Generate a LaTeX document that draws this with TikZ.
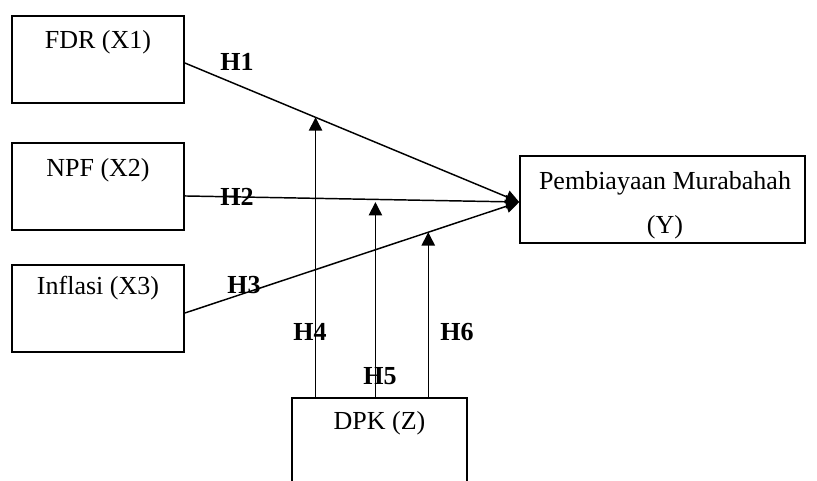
\documentclass[tikz,border=0pt]{standalone}
\usepackage{fontspec}
\setmainfont{Liberation Serif}
\usetikzlibrary{arrows.meta}
\begin{document}
\begin{tikzpicture}[x=0.75pt,y=-0.75pt,
  box/.style={draw, line width=1.2pt, rectangle, inner sep=0pt, minimum height=65.25pt},
  lbl/.style={font=\fontsize{19.5}{23}\selectfont, inner sep=0pt},
  hlbl/.style={font=\fontsize{19.5}{23}\selectfont\bfseries, inner sep=0pt},
  conn/.style={line width=1.1pt, -{Triangle[length=10pt,width=10pt]}}]
\clip (0,0) rectangle (817,481);
\fill[white] (0,0) rectangle (817,481);
% boxes
\node[box, minimum width=129pt] (fdr) at (98,59.5) {};
\node[box, minimum width=129pt] (npf) at (98,186.5) {};
\node[box, minimum width=129pt] (inf) at (98,308.5) {};
\node[box, minimum width=213.75pt] (ybox) at (662.5,199.5) {};
\node[box, minimum width=131.25pt] (dpk) at (379.5,441.5) {};
% texts
\node[lbl] (tfdr) at (98,42) {FDR (X1)};
\node[lbl] (tnpf) at (98,170) {NPF (X2)};
\node[lbl] (tinf) at (98,288) {Inflasi (X3)};
\node[lbl] (ty1) at (665,183) {Pembiayaan Murabahah};
\node[lbl] (ty2) at (665,227) {(Y)};
\node[lbl] (tdpk) at (379.5,423) {DPK (Z)};
% connector endpoints
\coordinate (tip) at ([yshift=-1.9pt]ybox.west);
\coordinate (s1) at ([yshift=-2.6pt]fdr.east);
\coordinate (s2) at ([yshift=-7.1pt]npf.east);
\coordinate (s3) at ([yshift=-3.4pt]inf.east);
\path (s1) -- (tip) coordinate[pos=0.391] (m1);
\path (s2) -- (tip) coordinate[pos=0.570] (m2);
\path (s3) -- (tip) coordinate[pos=0.728] (m3);
% main arrows
\draw[conn] (s1) -- (tip);
\draw[conn] (s2) -- (tip);
\draw[conn] (s3) -- (tip);
% moderating arrows
\draw[conn] (dpk.north -| m1) -- (m1);
\draw[conn] (dpk.north -| m2) -- ([yshift=-2pt]m2);
\draw[conn] (dpk.north -| m3) -- (m3);
% labels
\node[hlbl] (h1) at (237,62) {H1};
\node[hlbl] (h2) at (237,197) {H2};
\node[hlbl] (h3) at (244,285) {H3};
\node[hlbl] (h4) at (310,332) {H4};
\node[hlbl] (h5) at (380,376) {H5};
\node[hlbl] (h6) at (457,332) {H6};
\end{tikzpicture}
\end{document}
